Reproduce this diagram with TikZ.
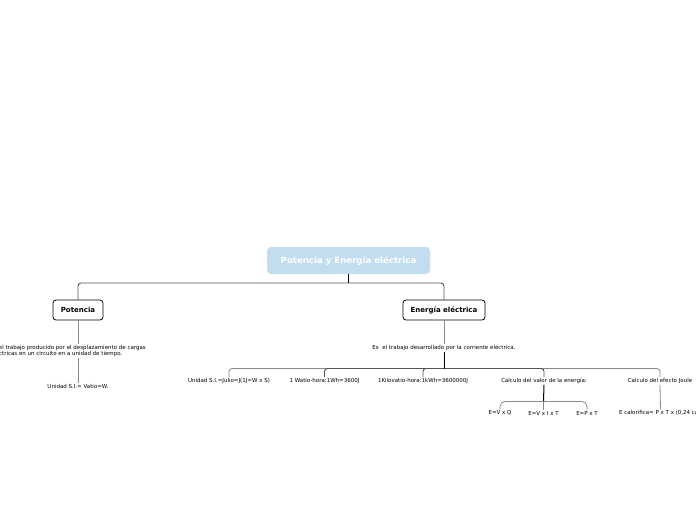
\documentclass[tikz,border=0pt]{standalone}
\usepackage{fontspec}
\setmainfont{DejaVu Sans}
\definecolor{rootfill}{HTML}{C2DDF0}
\definecolor{lineA}{HTML}{555555}
\definecolor{lineB}{HTML}{8A8A8A}
\begin{document}
\begin{tikzpicture}[x=1pt,y=-1pt,
  rootbox/.style={fill=rootfill,rounded corners=4pt,minimum width=163pt,minimum height=27pt,inner sep=0pt,
    text=white,font=\fontsize{8.6}{9}\selectfont\bfseries},
  mainbox/.style={draw=black,line width=0.8pt,fill=white,rounded corners=3pt,minimum height=20pt,inner sep=0pt,
    font=\fontsize{7}{8}\selectfont\bfseries},
  small/.style={inner sep=1pt,font=\fontsize{5.5}{6.6}\selectfont},
  connA/.style={draw=lineA,line width=0.9pt,rounded corners=3pt},
  connB/.style={draw=lineB,line width=0.8pt,rounded corners=3pt},
  connK/.style={draw=black,line width=1pt}]
\useasboundingbox[fill=white] (0,0) rectangle (696,520);
\begin{scope}
\clip (0,0) rectangle (696,520);
% nodes
\node[rootbox] (root) at (348.5,260.5) {Potencia y Energía eléctrica};
\node[mainbox,minimum width=50pt] (pot) at (78,310) {Potencia};
\node[mainbox,minimum width=82pt] (ene) at (444,310) {Energía eléctrica};

\node[small,align=left,anchor=east] (ptext) at (147,351) {Es el trabajo producido por el desplazamiento de cargas\\eléctricas en un circuito en a unidad de tiempo.};
\node[small] (punit) at (78,386.5) {Unidad S.I.= Vatio=W.};

\node[small] (etext) at (444,348) {Es\ \ el trabajo desarrollado por la corriente eléctrica.};
\node[small] (c1) at (229,381) {Unidad S.I.=Julio=J(1J=W x S)};
\node[small] (c2) at (324.5,381) {1 Watio-hora:1Wh=3600J};
\node[small] (c3) at (423,381) {1Kilovatio-hora:1kWh=3600000J};
\node[small] (c4) at (544,381) {Calculo del valor de la energía:};
\node[small] (c5) at (660,381) {Calculo del efecto Joule};
\node[small] (e1) at (500,413) {E=V x Q};
\node[small] (e2) at (543.5,413) {E=V x I x T};
\node[small] (e3) at (587,413) {E=P x T};
\node[small] (j5) at (660.5,413) {E calorífica= P x T x (0,24 cal)};

% junctions
\coordinate (j0) at (348.5,283);
\coordinate (j1) at (444,368.5);
\coordinate (j2) at (543.5,401.5);

% connectors
\draw[connA] (j0) -| (pot.north);
\draw[connA] (j0) -| (ene.north);
\draw[connK] (root.south) -- (j0);

\draw[connB] (pot.south) -- (pot.south |- ptext.north);
\draw[connB] (pot.south |- ptext.south) -- (punit.north);

\draw[connB] (ene.south) -- (etext.north);
\draw[connB] (j1) -| (c1.north);
\draw[connB] (j1) -| (c5.north);
\draw[connA] (j1) -| (c2.north);
\draw[connA] (j1) -| (c3.north);
\draw[connA] (j1) -| (c4.north);
\draw[connK] (etext.south) -- (j1);

\draw[connK] (c4.south) -- (j2);
\draw[connB,rounded corners=5pt] (j2) -| (e1.north);
\draw[connB,rounded corners=5pt] (j2) -| (e3.north);
\draw[connB] (j2) -- (e2.north);
\draw[connB] (c5.south) -- (j5.north);
\end{scope}
\end{tikzpicture}
\end{document}
